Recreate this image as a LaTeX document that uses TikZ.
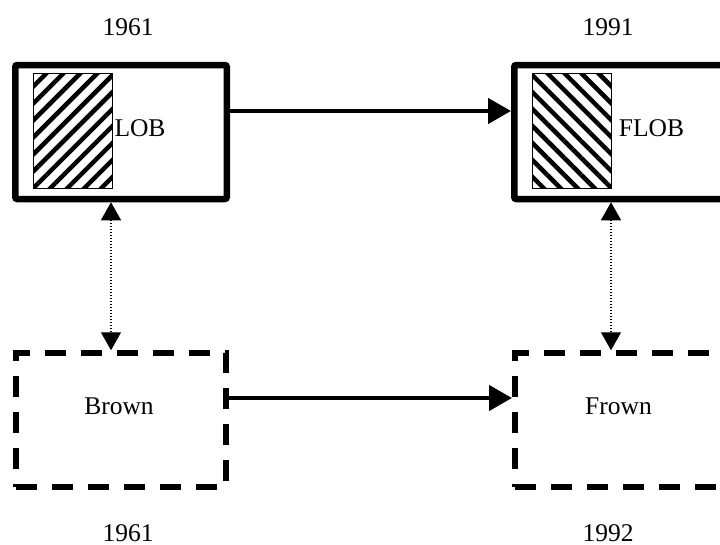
\documentclass[tikz,border=0pt]{standalone}
\usepackage{fontspec}
\setmainfont{Liberation Serif}
\usepackage{tikz}
\usetikzlibrary{arrows.meta, patterns.meta, positioning}

\begin{document}
\begin{tikzpicture}[x=1pt, y=-1pt,
        every node/.style={font=\fontsize{25.5}{30}\selectfont},
        solidbox/.style={draw, line width=6.5pt, rounded corners=2pt, minimum width=211.5pt, minimum height=134pt, inner sep=0pt},
        dashbox/.style={draw, line width=6pt, dash pattern=on 21pt off 15pt, minimum width=210pt, minimum height=133.5pt, inner sep=0pt},
        hatchbox/.style={draw, line width=1pt, minimum width=79pt, minimum height=115pt, inner sep=0pt},
        year/.style={inner sep=0pt},
        flow/.style={line width=4.5pt, -{Triangle[length=23pt, width=25pt]}},
        link/.style={line width=1.3pt, dash pattern=on 1.5pt off 1.5pt, {Triangle[length=18pt, width=20pt]}-{Triangle[length=18pt, width=20pt]}}]
        % Page frame
        \useasboundingbox (0,0) rectangle (720,544);
        \clip (0,0) rectangle (720,544);

        % The four corpora
        \node[solidbox] (lob) at (121,132) {};
        \node[solidbox] (flob) at (620,132) {};
        \node[dashbox] (brown) at (121,420) {};
        \node[dashbox] (frown) at (620,420) {};

        % Hatched blocks
        \node[hatchbox, pattern={Lines[angle=45, distance=12pt, line width=4.5pt]}] (lobhatch) at (72.5,130.5) {};
        \node[hatchbox, pattern={Lines[angle=-45, distance=12pt, line width=4.5pt]}] (flobhatch) at (572,130.5) {};

        % Names
        \node (loblabel) at (140,128) {LOB};
        \node (floblabel) at (651.5,128) {FLOB};
        \node (brownlabel) at (119,406) {Brown};
        \node (frownlabel) at (618.5,406) {Frown};

        % Years
        \node[year] (lobyear) at (128,27) {1961};
        \node[year] (flobyear) at (608,27) {1991};
        \node[year] (brownyear) at (128,533) {1961};
        \node[year] (frownyear) at (608,533) {1992};

        % Arrows
        \draw[flow] ([yshift=21pt]lob.east) -- ([yshift=21pt]flob.west);
        \draw[flow] ([yshift=22pt]brown.east) -- ([yshift=22pt]frown.west);
        \draw[link] ([xshift=-10pt]lob.south) -- ([xshift=-10pt]brown.north);
        \draw[link] ([xshift=-9pt]flob.south) -- ([xshift=-9pt]frown.north);
    \end{tikzpicture}
\end{document}
